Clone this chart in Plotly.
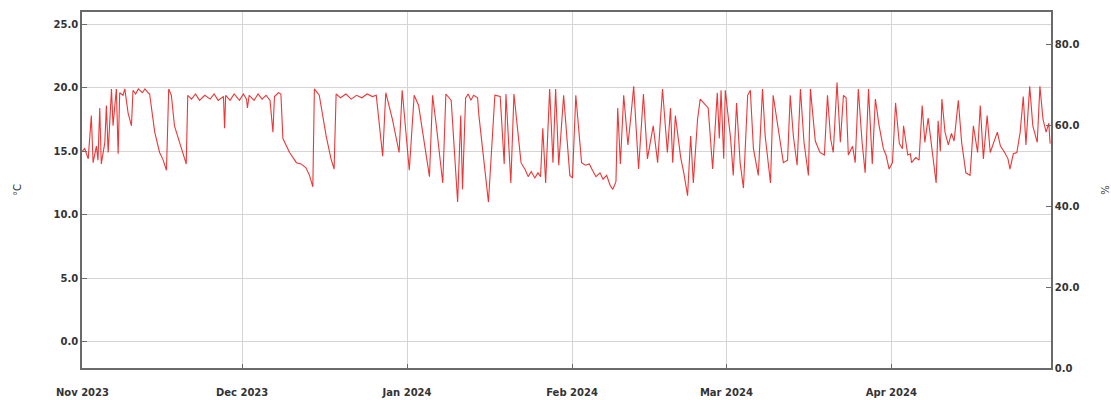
import plotly.graph_objects as go

times = [
    "2023-11-01 00:00", "2023-11-01 10:00", "2023-11-02 02:00", "2023-11-02 16:00", "2023-11-03 00:00",
    "2023-11-03 15:00", "2023-11-03 22:00", "2023-11-04 06:00", "2023-11-04 13:00", "2023-11-05 05:00",
    "2023-11-05 12:00", "2023-11-05 20:00", "2023-11-06 11:00", "2023-11-06 18:00", "2023-11-07 09:00",
    "2023-11-07 17:00", "2023-11-08 00:00", "2023-11-08 15:00", "2023-11-08 23:00", "2023-11-09 14:00",
    "2023-11-10 05:00", "2023-11-10 12:00", "2023-11-11 00:00", "2023-11-11 12:00", "2023-11-12 06:00",
    "2023-11-12 18:00", "2023-11-13 08:00", "2023-11-13 15:00", "2023-11-14 14:00", "2023-11-15 12:00",
    "2023-11-16 02:00", "2023-11-16 19:00", "2023-11-17 05:00", "2023-11-17 17:00", "2023-11-18 07:00",
    "2023-11-19 07:00", "2023-11-20 05:00", "2023-11-20 12:00", "2023-11-20 19:00", "2023-11-21 12:00",
    "2023-11-22 06:00", "2023-11-23 00:00", "2023-11-24 00:00", "2023-11-25 00:00", "2023-11-25 18:00",
    "2023-11-26 12:00", "2023-11-27 12:00", "2023-11-27 17:00", "2023-11-27 22:00", "2023-11-28 18:00",
    "2023-11-29 12:00", "2023-11-30 12:00", "2023-12-01 06:00", "2023-12-01 20:00", "2023-12-02 00:00",
    "2023-12-02 08:00", "2023-12-03 06:00", "2023-12-04 00:00", "2023-12-04 18:00", "2023-12-05 12:00",
    "2023-12-06 06:00", "2023-12-06 19:00", "2023-12-07 02:00", "2023-12-07 20:00", "2023-12-08 07:00",
    "2023-12-08 16:00", "2023-12-09 22:00", "2023-12-11 05:00", "2023-12-12 02:00", "2023-12-13 00:00",
    "2023-12-13 16:00", "2023-12-14 07:00", "2023-12-14 14:00", "2023-12-15 12:00", "2023-12-16 19:00",
    "2023-12-17 17:00", "2023-12-18 07:00", "2023-12-18 16:00", "2023-12-19 12:00", "2023-12-20 12:00",
    "2023-12-21 12:00", "2023-12-22 12:00", "2023-12-23 12:00", "2023-12-24 12:00", "2023-12-25 12:00",
    "2023-12-26 05:00", "2023-12-27 10:00", "2023-12-28 00:00", "2023-12-29 06:00", "2023-12-30 12:00",
    "2023-12-31 02:00", "2024-01-01 10:00", "2024-01-02 08:00", "2024-01-03 04:00", "2024-01-05 05:00",
    "2024-01-05 19:00", "2024-01-06 12:00", "2024-01-07 17:00", "2024-01-08 07:00", "2024-01-09 07:00",
    "2024-01-10 12:00", "2024-01-11 02:00", "2024-01-11 10:00", "2024-01-12 00:00", "2024-01-12 12:00",
    "2024-01-13 00:00", "2024-01-13 12:00", "2024-01-14 06:00", "2024-01-14 12:00", "2024-01-16 07:00",
    "2024-01-17 12:00", "2024-01-18 12:00", "2024-01-19 06:00", "2024-01-19 14:00", "2024-01-20 12:00",
    "2024-01-21 02:00", "2024-01-22 10:00", "2024-01-23 06:00", "2024-01-23 18:00", "2024-01-24 08:00",
    "2024-01-25 00:00", "2024-01-25 14:00", "2024-01-26 02:00", "2024-01-26 12:00", "2024-01-27 01:00",
    "2024-01-27 19:00", "2024-01-28 10:00", "2024-01-28 22:00", "2024-01-29 12:00", "2024-01-30 10:00",
    "2024-01-31 14:00", "2024-02-01 02:00", "2024-02-01 17:00", "2024-02-02 19:00", "2024-02-03 12:00",
    "2024-02-04 06:00", "2024-02-04 20:00", "2024-02-05 12:00", "2024-02-06 06:00", "2024-02-06 20:00",
    "2024-02-07 12:00", "2024-02-08 04:00", "2024-02-08 16:00", "2024-02-09 06:00", "2024-02-09 14:00",
    "2024-02-10 02:00", "2024-02-10 17:00", "2024-02-11 12:00", "2024-02-12 00:00", "2024-02-12 14:00",
    "2024-02-13 12:00", "2024-02-14 10:00", "2024-02-15 04:00", "2024-02-16 06:00", "2024-02-17 02:00",
    "2024-02-18 00:00", "2024-02-18 22:00", "2024-02-19 12:00", "2024-02-19 22:00", "2024-02-20 10:00",
    "2024-02-21 10:00", "2024-02-22 00:00", "2024-02-22 17:00", "2024-02-23 07:00", "2024-02-23 19:00",
    "2024-02-24 14:00", "2024-02-25 02:00", "2024-02-25 17:00", "2024-02-26 14:00", "2024-02-27 10:00",
    "2024-02-28 07:00", "2024-02-28 16:00", "2024-02-29 00:00", "2024-02-29 12:00", "2024-02-29 19:00",
    "2024-03-01 19:00", "2024-03-02 07:00", "2024-03-02 22:00", "2024-03-03 14:00", "2024-03-04 05:00",
    "2024-03-05 00:00", "2024-03-05 12:00", "2024-03-06 02:00", "2024-03-07 00:00", "2024-03-07 19:00",
    "2024-03-08 07:00", "2024-03-09 07:00", "2024-03-09 19:00", "2024-03-10 19:00", "2024-03-11 17:00",
    "2024-03-12 12:00", "2024-03-13 00:00", "2024-03-13 14:00", "2024-03-14 07:00", "2024-03-14 22:00",
    "2024-03-15 14:00", "2024-03-16 10:00", "2024-03-16 19:00", "2024-03-17 17:00", "2024-03-18 14:00",
    "2024-03-19 10:00", "2024-03-20 00:00", "2024-03-20 14:00", "2024-03-21 02:00", "2024-03-21 19:00",
    "2024-03-22 10:00", "2024-03-23 00:00", "2024-03-23 12:00", "2024-03-23 22:00", "2024-03-24 17:00",
    "2024-03-25 05:00", "2024-03-25 19:00", "2024-03-26 12:00", "2024-03-27 02:00", "2024-03-27 17:00",
    "2024-03-28 10:00", "2024-03-29 00:00", "2024-03-29 17:00", "2024-03-30 12:00", "2024-03-31 00:00",
    "2024-03-31 14:00", "2024-04-01 05:00", "2024-04-01 10:00", "2024-04-01 19:00", "2024-04-02 12:00",
    "2024-04-03 02:00", "2024-04-03 07:00", "2024-04-04 02:00", "2024-04-04 14:00", "2024-04-04 19:00",
    "2024-04-05 14:00", "2024-04-06 05:00", "2024-04-06 19:00", "2024-04-07 07:00", "2024-04-07 22:00",
    "2024-04-08 17:00", "2024-04-09 10:00", "2024-04-09 19:00", "2024-04-10 05:00", "2024-04-10 12:00",
    "2024-04-11 02:00", "2024-04-11 17:00", "2024-04-12 07:00", "2024-04-12 19:00", "2024-04-13 14:00",
    "2024-04-14 05:00", "2024-04-15 00:00", "2024-04-15 19:00", "2024-04-16 10:00", "2024-04-17 05:00",
    "2024-04-17 17:00", "2024-04-18 07:00", "2024-04-19 00:00", "2024-04-19 14:00", "2024-04-20 05:00",
    "2024-04-20 22:00", "2024-04-21 12:00", "2024-04-22 07:00", "2024-04-22 22:00", "2024-04-23 07:00",
    "2024-04-23 22:00", "2024-04-24 14:00", "2024-04-25 05:00", "2024-04-25 19:00", "2024-04-26 07:00",
    "2024-04-27 00:00", "2024-04-27 14:00", "2024-04-28 10:00", "2024-04-28 22:00", "2024-04-29 12:00",
    "2024-04-30 02:00", "2024-04-30 14:00", "2024-04-30 20:00",
]

temps_c = [
    15.0, 15.2, 14.4, 17.8, 14.1,
    15.4, 14.3, 18.4, 14.0, 15.7,
    18.6, 14.9, 19.9, 17.0, 19.9,
    14.8, 19.6, 19.4, 19.9, 18.0,
    17.0, 19.8, 19.5, 19.9, 19.6,
    19.9, 19.6, 19.5, 16.5, 14.9,
    14.4, 13.5, 19.9, 19.4, 17.0,
    15.7, 14.4, 14.0, 19.4, 19.1,
    19.5, 19.0, 19.4, 19.1, 19.5,
    19.0, 19.3, 16.8, 19.4, 19.0,
    19.5, 19.0, 19.5, 19.1, 18.4,
    19.4, 19.0, 19.5, 19.1, 19.4,
    19.0, 16.5, 19.3, 19.6, 19.5,
    16.0, 14.9, 14.1, 14.0, 13.7,
    13.1, 12.2, 19.9, 19.4, 16.2,
    14.4, 13.6, 19.5, 19.2, 19.5,
    19.1, 19.4, 19.2, 19.5, 19.3,
    19.4, 14.6, 19.6, 17.5, 14.9,
    19.8, 13.5, 19.4, 18.6, 13.0,
    19.4, 17.0, 12.5, 19.5, 19.0,
    11.0, 17.8, 12.0, 19.2, 19.5,
    19.0, 19.4, 19.2, 17.8, 11.0,
    19.4, 19.3, 14.0, 19.5, 12.5,
    19.5, 14.1, 13.5, 13.0, 13.4,
    12.9, 13.3, 13.0, 16.8, 12.5,
    19.9, 14.1, 19.9, 13.9, 19.4,
    13.1, 12.9, 19.4, 14.1, 13.9,
    14.0, 13.5, 13.0, 13.3, 12.8,
    13.1, 12.3, 12.0, 12.6, 18.4,
    14.0, 19.4, 15.5, 17.5, 20.1,
    13.6, 19.5, 14.4, 17.0, 14.1,
    19.9, 14.9, 18.4, 14.1, 17.8,
    14.5, 13.3, 11.5, 16.2, 12.5,
    17.5, 19.1, 18.8, 18.4, 13.6,
    19.6, 16.0, 19.8, 14.4, 19.8,
    16.0, 13.1, 18.8, 14.1, 12.1,
    19.4, 19.8, 15.2, 13.1, 19.9,
    16.2, 12.5, 19.4, 16.5, 14.1,
    14.3, 19.4, 16.2, 13.9, 19.9,
    15.7, 13.1, 19.9, 15.8, 14.9,
    14.7, 19.4, 16.0, 14.9, 20.4,
    15.7, 19.4, 19.2, 14.7, 15.4,
    14.1, 19.9, 15.7, 13.3, 19.9,
    14.0, 19.1, 17.0, 15.2, 14.7,
    13.6, 14.1, 15.7, 18.8, 15.6,
    15.2, 17.0, 14.7, 14.8, 14.1,
    14.5, 14.3, 18.6, 15.7, 17.6,
    14.7, 12.5, 17.4, 15.0, 19.1,
    16.5, 15.5, 16.4, 15.8, 19.0,
    15.7, 13.3, 13.1, 17.0, 14.9,
    18.6, 14.4, 17.8, 14.9, 15.7,
    16.5, 15.4, 14.9, 14.4, 13.6,
    14.8, 14.9, 16.5, 19.3, 15.5,
    20.1, 17.0, 15.7, 20.1, 17.5,
    16.5, 17.2, 15.6,
]

month_ticks = ["2023-11-01", "2023-12-01", "2024-01-01", "2024-02-01", "2024-03-01", "2024-04-01"]
month_labels = ["Nov 2023", "Dec 2023", "Jan 2024", "Feb 2024", "Mar 2024", "Apr 2024"]
left_ticks = [0, 5, 10, 15, 20, 25]
right_ticks = [0, 20, 40, 60, 80]

tick_font = dict(family="DejaVu Sans", size=10, color="#333333", weight="bold")
title_font = dict(family="DejaVu Sans", size=10, color="#333333")
frame = "#6a6a6a"
grid = "#d4d4d4"

fig = go.Figure()
fig.add_trace(go.Scatter(
    x=times, y=temps_c, mode="lines",
    line=dict(color="rgba(232,20,20,0.85)", width=1.1),
    showlegend=False, hoverinfo="x+y",
))
fig.add_trace(go.Scatter(
    x=[times[0]], y=[None], yaxis="y2", mode="lines",
    showlegend=False, hoverinfo="skip",
))

fig.update_layout(
    width=1111, height=400,
    margin=dict(l=82, r=60, t=12, b=32, autoexpand=False),
    paper_bgcolor="white", plot_bgcolor="white",
    xaxis=dict(
        type="date", range=["2023-10-31 22:00", "2024-05-01 00:00"],
        tickvals=month_ticks, ticktext=month_labels,
        tickfont=tick_font, ticks="inside", ticklen=4, tickcolor=frame,
        ticklabelstandoff=14, automargin=False,
        showgrid=True, gridcolor=grid, gridwidth=1,
        showline=True, linecolor=frame, linewidth=1.5, mirror=True,
        zeroline=False,
    ),
    yaxis=dict(
        range=[-2.05, 25.95], tickvals=left_ticks, tickformat=".1f",
        tickfont=tick_font, ticks="inside", ticklen=5, tickcolor=frame,
        showgrid=True, gridcolor=grid, gridwidth=1,
        showline=True, linecolor=frame, linewidth=1.5,
        zeroline=False, automargin=False,
        title=dict(text="°C", font=title_font, standoff=30),
    ),
    yaxis2=dict(
        overlaying="y", side="right", range=[0, 88.1], tickvals=right_ticks, tickformat=".1f",
        tickfont=tick_font, ticks="inside", ticklen=5, tickcolor=frame,
        showgrid=False, showline=True, linecolor=frame, linewidth=1.5,
        zeroline=False, automargin=False,
        title=dict(text="%", font=title_font, standoff=28),
    ),
)

fig.write_html(
    "out.html",
    config={"displayModeBar": False},
    post_script="document.body.style.margin='0px';",
)
